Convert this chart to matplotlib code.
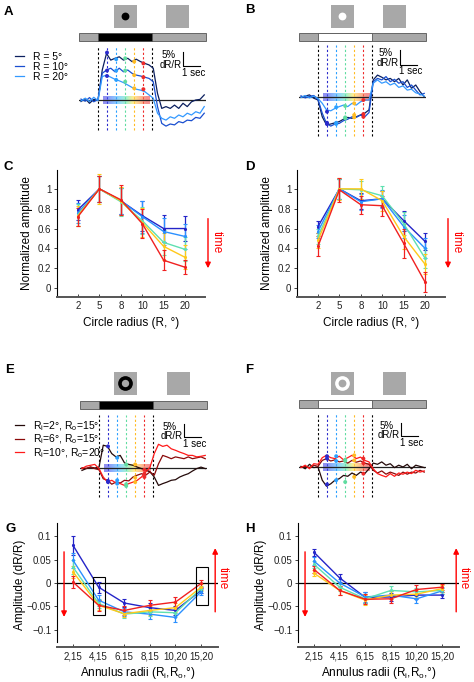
import numpy as np
import matplotlib
matplotlib.use('Agg')
import matplotlib.pyplot as plt
from matplotlib.patches import Rectangle, Circle
from matplotlib.colors import to_rgb

plt.rcParams['font.family'] = ['Liberation Sans', 'DejaVu Sans']
plt.rcParams['mathtext.default'] = 'regular'

W, H = 474, 682

# ---------------- data ----------------
# time courses, seconds from stimulus onset, dR/R in %
T = np.arange(-1.0, 6.26, 0.25)
STIM_END = 3.2
T_MARKS = [0.53, 1.07, 1.6, 2.13, 2.67]
MARK_COLORS = ['#2a2acc', '#2aa0ff', '#5fdca0', '#ffbb22', '#ee2a2a']

circle_labels = ['R = 5\u00b0', 'R = 10\u00b0', 'R = 20\u00b0']
circle_colors = ['#0b1f5e', '#1a4fd0', '#3399ff']

a_r5 = [-0.5, 0.5, -1.1, 0.2, 0, 10, 15.5, 13.3, 13.9, 14.4, 13.3, 13.9, 12.8, 13.6, 12.8,
        12.2, 11.7, 10.6, 2.2, -2.8, -2.2, -2.8, -1.7, -2.8, -1.1, -2.2, -0.6, 0, 0.2, 1.7]
a_r10 = [0.3, -0.4, 0.8, -0.6, 0.2, 8.9, 10, 10.6, 9.4, 10.6, 9.4, 10, 8.9, 8.3, 8.0,
         7.6, 7.2, 6.1, -2.2, -7.8, -8.7, -8, -8.3, -7.2, -7.6, -6.7, -6.9, -5.8, -6.1, -4.4]
a_r20 = [-0.3, 0.6, -0.5, 0.9, -0.2, 7.8, 8.3, 7.6, 6.9, 6.4, 5.8, 5, 4.2, 3.6, 3.3,
         2.8, 1.7, 0.6, -4.4, -6.1, -6.7, -5.6, -6.1, -5, -5.6, -4.4, -5, -3.9, -4.4, -2.2]
a_marks = [[15.8, 13.6, 13.9, 12.8, 12.2],
           [9.8, 9.8, 9.8, 8.3, 7.6],
           [8, 6.7, 6.1, 3.9, 3.6]]

b_r5 = [0, 0.3, 0.7, -0.4, -1, -6.6, -9.3, -9, -8.6, -8.2, -7.4, -6.8, -7.1, -6.6, -6,
        -5.4, -4.3, 5.7, 7.3, 6.6, 5.7, 6.2, 5.1, 6.2, 4, 5.7, 2.9, 4, 1.8, 0.1]
b_r10 = [0.4, -0.3, 0.2, 0.5, -0.8, -5.4, -8.8, -9.7, -9, -8.8, -7.9, -7.4, -6.6, -6.8, -6,
         -6.6, -5.2, 5.1, 6.2, 5.7, 6.8, 5.1, 5.9, 4.6, 5.1, 3.2, 4, 2.3, 0.7, 1.2]
b_r20 = [-0.2, 0.5, -0.3, 0.3, -0.5, -2.1, -4.3, -4.6, -3.8, -3.2, -2.7, -3.2, -2.1, -2.7, -1.6,
         -1, -1, 4.6, 5.7, 4.6, 5.1, 4, 4.6, 3.2, 3.7, 2.3, 2.6, 1.4, 1, 0.3]
b_marks = [[-9, -8.6, -7.1, -6.8, -5.7],
           [-8.6, -9, -6.8, -6, -6.6],
           [-4.9, -3.4, -3, -2.1, -1]]

annulus_labels = ['R$_i$=2\u00b0, R$_o$=15\u00b0', 'R$_i$=6\u00b0, R$_o$=15\u00b0',
                  'R$_i$=10\u00b0, R$_o$=20\u00b0']
annulus_colors = ['#240a0a', '#8b0a0a', '#ff1a1a']

e_2_15 = [-0.8, -0.2, 0.3, 0, 0.3, 7.6, 7.2, 4.8, 3.7, 4.2, 1.7, 1.2, 0.9, 0.3, -0.2,
          -0.6, -1.3, -3, -5.8, -5.2, -4.7, -4.1, -3.9, -3, -2.4, -1.9, -1, -0.2, 0.3, -0.2]
e_6_15 = [0.1, -0.1, 0.3, -0.2, -0.6, -3.6, -4.1, -5.4, -4.7, -5, -4.1, -4.3, -3, -2.4, -1.9,
          -2.4, -1.3, -2.4, 1.4, 4.2, 3.7, 3.1, 3.7, 3.4, 3.1, 3.7, 3.1, 3.4, 3.7, 3.1]
e_10_20 = [-0.2, 0.6, 0.9, 1.2, -0.2, -3, -4.7, -4.1, -5, -5.2, -5.8, -5.2, -4.7, -4.1, -3,
           -1.3, 0.3, 4.8, 7.9, 7.2, 7.6, 6.4, 5.9, 5.3, 4.8, 4.2, 4.2, 3.7, 3.9, 4.2]
e_marks = [[7.2, 3.4, 1.2, 1.2, -0.6],
           [-4.7, -4.1, -5.4, -3.2, -1.9],
           [-4.3, -5.2, -6, -4.7, -3]]

f_2_15 = [0.2, -0.6, 0.9, -0.2, 0, -4.4, -6.4, -5.6, -4.4, -3.9, -2.8, -3.1, -2, -2.8, -1.7,
          -2.2, -0.6, 1.3, 0.9, 1.7, 0.6, 1.1, -0.2, 0.6, 0, 0.9, -0.6, 0.6, 0.2, -0.2]
f_6_15 = [0, 0.2, -0.2, 0.6, 0.2, 2.2, 2.8, 2, 2.4, 1.7, 2, 1.3, 2.2, 1.6, 2,
          1.3, 0.9, -1.1, -2, -1.3, -2.4, -1.7, -2.2, -2.8, -1.7, -2.4, -1.7, -2, -1.1, -1.7]
f_10_20 = [-0.2, 0.6, -0.6, 1.1, 0.9, 3.1, 3.9, 3.1, 2.8, 3.6, 2.4, 3.1, 3.9, 2.8, 3.3,
           2.2, 1.7, -0.6, -2.2, -2.8, -3.3, -2.2, -3.1, -2, -2.4, -1.7, -2.2, -1.1, -1.7, -1.3]
f_marks = [[-5.8, -4.4, -5, -3.3, -2.2],
           [2.8, 2, 2, 2.2, 1.3],
           [3.6, 3.6, 2.4, 3.9, 2.8]]

# tuning curves, one row per time window (early -> late)
radius_labels = ['2', '5', '8', '10', '15', '20']
c_vals = [[0.79, 1.0, 0.88, 0.73, 0.60, 0.60],
          [0.76, 1.0, 0.88, 0.72, 0.57, 0.52],
          [0.74, 1.0, 0.87, 0.68, 0.46, 0.39],
          [0.73, 1.0, 0.88, 0.66, 0.42, 0.31],
          [0.72, 1.0, 0.89, 0.65, 0.28, 0.21]]
c_err = [[0.10, 0.13, 0.13, 0.15, 0.14, 0.13],
         [0.10, 0.13, 0.13, 0.16, 0.14, 0.13],
         [0.11, 0.13, 0.14, 0.14, 0.13, 0.12],
         [0.10, 0.15, 0.14, 0.15, 0.14, 0.12],
         [0.09, 0.13, 0.15, 0.15, 0.10, 0.07]]
d_vals = [[0.62, 1.0, 0.88, 0.90, 0.68, 0.47],
          [0.57, 1.0, 0.87, 0.90, 0.62, 0.40],
          [0.52, 1.0, 0.99, 0.93, 0.65, 0.30],
          [0.48, 1.0, 1.0, 0.88, 0.52, 0.24],
          [0.42, 0.99, 0.84, 0.83, 0.45, 0.06]]
d_err = [[0.06, 0.10, 0.08, 0.08, 0.10, 0.09],
         [0.07, 0.10, 0.08, 0.09, 0.12, 0.10],
         [0.08, 0.10, 0.09, 0.10, 0.12, 0.10],
         [0.08, 0.11, 0.10, 0.10, 0.13, 0.10],
         [0.10, 0.12, 0.09, 0.10, 0.15, 0.10]]

radii_labels = ['2,15', '4,15', '6,15', '8,15', '10,20', '15,20']
g_vals = [[0.081, -0.009, -0.043, -0.053, -0.059, -0.016],
          [0.049, -0.037, -0.062, -0.067, -0.074, -0.019],
          [0.034, -0.044, -0.067, -0.062, -0.064, -0.012],
          [0.024, -0.048, -0.066, -0.059, -0.053, -0.009],
          [0.002, -0.048, -0.059, -0.048, -0.041, -0.001]]
g_err = [[0.020, 0.012, 0.008, 0.010, 0.010, 0.006],
         [0.016, 0.012, 0.009, 0.010, 0.009, 0.006],
         [0.015, 0.010, 0.008, 0.009, 0.009, 0.006],
         [0.013, 0.011, 0.008, 0.010, 0.010, 0.006],
         [0.012, 0.012, 0.009, 0.012, 0.011, 0.007]]
h_vals = [[0.066, 0.011, -0.031, -0.030, -0.026, -0.026],
          [0.047, 0.000, -0.030, -0.026, -0.034, -0.017],
          [0.040, -0.009, -0.034, -0.016, -0.019, -0.016],
          [0.021, -0.016, -0.037, -0.026, -0.024, -0.012],
          [0.029, -0.016, -0.035, -0.034, -0.014, -0.009]]
h_err = [[0.008, 0.009, 0.012, 0.008, 0.008, 0.007],
         [0.008, 0.009, 0.010, 0.008, 0.008, 0.007],
         [0.008, 0.008, 0.010, 0.009, 0.008, 0.007],
         [0.007, 0.010, 0.011, 0.009, 0.009, 0.007],
         [0.007, 0.010, 0.011, 0.009, 0.009, 0.007]]
curve_colors = ['#2424c8', '#2a90ff', '#5fe0b0', '#ffc81a', '#f02020']

# ---------------- layout helpers ----------------
fig = plt.figure(figsize=(W / 100, H / 100), dpi=100)

XLIM = (-1.1, 6.35)
PX_PER_S = 17.0
PX_PER_PCT = 3.0
STRIP = np.array([[to_rgb(c) for c in ['#4848e8', '#3c8cff', '#4cc4f4', '#6ce8a8',
                                        '#ffe24a', '#ff9a48', '#f04848']]])


def px_axes(x, y, w, h):
    return fig.add_axes([x / W, 1 - (y + h) / H, w / W, h / H])


def icon(x, y, fill, ring=None):
    ax = px_axes(x, y, 23, 23)
    ax.set_facecolor('#a8a8a8')
    ax.set_xticks([])
    ax.set_yticks([])
    for s in ax.spines.values():
        s.set_visible(False)
    if ring is not None:
        ax.add_patch(Circle((0.5, 0.5), ring[0], transform=ax.transAxes, fc=fill, ec='none'))
        ax.add_patch(Circle((0.5, 0.5), ring[1], transform=ax.transAxes, fc='#a8a8a8', ec='none'))
    elif fill is not None:
        ax.add_patch(Circle((0.5, 0.5), 0.17, transform=ax.transAxes, fc=fill, ec='none'))


def trace_panel(onset_px, base_px, top_px, bot_px, dash_px, traces, colors, marks,
                stim_color, sb):
    left = onset_px + XLIM[0] * PX_PER_S
    width = (XLIM[1] - XLIM[0]) * PX_PER_S
    ax = px_axes(left, top_px, width, bot_px - top_px)
    ylo = (base_px - bot_px) / PX_PER_PCT
    yhi = (base_px - top_px) / PX_PER_PCT
    bar_h = 8 / PX_PER_PCT
    ax.add_patch(Rectangle((XLIM[0], yhi - bar_h), XLIM[1] - XLIM[0], bar_h, fc='#a8a8a8',
                           ec='#555555', lw=0.6, clip_on=False))
    ax.add_patch(Rectangle((0, yhi - bar_h), STIM_END, bar_h, fc=stim_color,
                           ec='#555555', lw=0.6, clip_on=False))
    d_top = (base_px - dash_px[0]) / PX_PER_PCT
    d_bot = (base_px - dash_px[1]) / PX_PER_PCT
    for tm, c in zip([0] + T_MARKS + [STIM_END], ['black'] + MARK_COLORS + ['black']):
        ax.plot([tm, tm], [d_bot, d_top], color=c, lw=0.8, ls=(0, (2, 2)), zorder=1)
    ax.imshow(STRIP, extent=(0.29, 3.0, -1.3, 1.3), aspect='auto', alpha=0.6,
              interpolation='bilinear', zorder=2)
    ax.axhline(0, color='#222222', lw=0.9, zorder=3)
    lines = []
    for y, c in zip(traces, colors):
        lines.append(ax.plot(T, y, color=c, lw=0.9, zorder=4)[0])
    for m in marks:
        ax.scatter(T_MARKS, m, c=MARK_COLORS, s=8, zorder=5, linewidths=0)
    # scale bar: 5 % and 1 s
    st, s_top, s_bot = sb
    ax.plot([st, st, st + 1], [s_top, s_bot, s_bot], color='black', lw=0.8)
    ax.text(st - 0.42, s_top - 1.0, '5%', ha='right', va='center', fontsize=7)
    ax.text(st - 0.05, s_bot + 0.5, 'dR/R', ha='right', va='center', fontsize=7)
    ax.text(st + 0.65, s_bot - 2.2, '1 sec', ha='center', va='center', fontsize=7)
    ax.set_xlim(XLIM)
    ax.set_ylim(ylo, yhi)
    ax.axis('off')
    return lines


def style_axes(ax, xlabels, xlabel, ylabel, yticks, yticklabels, ybounds, xpad, ypad):
    for s in ['top', 'right']:
        ax.spines[s].set_visible(False)
    ax.spines['left'].set_linewidth(0.8)
    ax.spines['left'].set_bounds(*ybounds)
    ax.spines['bottom'].set_linewidth(1.4)
    ax.spines['bottom'].set_color('#555555')
    ax.set_xticks(range(1, len(xlabels) + 1))
    ax.set_xticklabels(xlabels)
    ax.set_yticks(yticks)
    ax.set_yticklabels(yticklabels)
    ax.tick_params(axis='y', direction='out', length=2, width=0.6, labelsize=7, pad=2,
                   colors='#222222')
    ax.tick_params(axis='x', direction='in', length=2.5, width=0.6, labelsize=7, pad=3,
                   colors='#222222')
    ax.set_xlabel(xlabel, fontsize=8.5, labelpad=xpad)
    ax.set_ylabel(ylabel, fontsize=8.5, labelpad=ypad)


def curves(ax, vals, errs):
    x = range(1, len(vals[0]) + 1)
    for v, e, c in zip(vals, errs, curve_colors):
        ax.errorbar(x, v, yerr=e, color=c, lw=1.0, elinewidth=0.9, capsize=1.2,
                    capthick=0.8, marker='.', ms=2.5)


def time_arrow(ax, x, y0, y1):
    ax.annotate('', xy=(x, y1), xytext=(x, y0), annotation_clip=False,
                arrowprops=dict(arrowstyle='-|>', color='red', lw=1.0, mutation_scale=8,
                                shrinkA=0, shrinkB=0))


def time_text(ax, x, y):
    ax.text(x, y, 'time', color='red', rotation=270, ha='center', va='center',
            fontsize=8.5, clip_on=False)


# ---------------- A / B : circles ----------------
icon(114, 5, 'black')
icon(166, 5, None)
icon(331, 5, 'white')
icon(383, 5, None)
la = trace_panel(98, 100, 33, 131, (47, 130), [a_r5, a_r10, a_r20], circle_colors, a_marks,
                 'black', (5.0, 16.0, 11.3))
trace_panel(318, 97, 33, 137, (45, 136), [b_r5, b_r10, b_r20], circle_colors, b_marks,
            'white', (4.82, 15.7, 10.7))
fig.legend(la, circle_labels, loc='upper left', bbox_to_anchor=(15 / W, 1 - 52 / H),
           frameon=False, fontsize=7.5, handlelength=0.9, handletextpad=0.8,
           labelspacing=0.0, borderaxespad=0, borderpad=0)

# ---------------- C / D : circle tuning ----------------
for left, vals, errs in [(57, c_vals, c_err), (297, d_vals, d_err)]:
    ax = px_axes(left, 170, 148, 127)
    curves(ax, vals, errs)
    ax.set_xlim(0.02, 6.93)
    ax.set_ylim(-0.09, 1.19)
    style_axes(ax, radius_labels, 'Circle radius (R, \u00b0)', 'Normalized amplitude',
               [0, 0.2, 0.4, 0.6, 0.8, 1.0], ['0', '0.2', '0.4', '0.6', '0.8', '1'],
               (-0.07, 1.19), 4, 3.5)
    time_arrow(ax, 7.07, 0.70, 0.20)
    time_text(ax, 7.48, 0.46)

# ---------------- E / F : annuli ----------------
icon(114, 372, 'black', ring=(0.32, 0.16))
icon(167, 372, None)
icon(331, 372, 'white', ring=(0.32, 0.17))
icon(383, 372, None)
le = trace_panel(99, 468, 401, 499, (415, 497), [e_2_15, e_6_15, e_10_20], annulus_colors,
                 e_marks, 'black', (5.0, 14.7, 10.3))
trace_panel(318, 467, 400, 498, (414, 497), [f_2_15, f_6_15, f_10_20], annulus_colors,
            f_marks, 'white', (4.88, 14.7, 10.3))
fig.legend(le, annulus_labels, loc='upper left', bbox_to_anchor=(15 / W, 1 - 419 / H),
           frameon=False, fontsize=7.5, handlelength=0.9, handletextpad=0.8,
           labelspacing=0.0, borderaxespad=0, borderpad=0)

# ---------------- G / H : annulus tuning ----------------
gticks = [-0.1, -0.05, 0, 0.05, 0.1]
gticklabels = ['\u22120.1', '\u22120.05', '0', '0.05', '0.1']
axes_gh = []
for left, vals, errs in [(57, g_vals, g_err), (298, h_vals, h_err)]:
    ax = px_axes(left, 523, 161, 124)
    ax.axhline(0, color='black', lw=0.9, zorder=0)
    curves(ax, vals, errs)
    ax.set_xlim(0.375, 6.66)
    ax.set_ylim(-0.1376, 0.129)
    style_axes(ax, radii_labels, 'Annulus radii (R$_i$,R$_o$,\u00b0)', 'Amplitude (dR/R)',
               gticks, gticklabels, (-0.127, 0.129), 3, 1)
    time_arrow(ax, 0.65, 0.067, -0.073)
    time_arrow(ax, 6.55, -0.062, 0.075)
    time_text(ax, 6.86, 0.011)
    axes_gh.append(ax)
for x0, y0 in [(1.78, -0.069), (5.8, -0.048)]:
    axes_gh[0].add_patch(Rectangle((x0, y0), 0.47, 0.082, fill=False, ec='black',
                                   lw=0.8, zorder=6))

# ---------------- panel letters ----------------
for letter, x, y in [('A', 4, 15), ('B', 245, 13), ('C', 3, 170), ('D', 245, 170),
                     ('E', 5, 373), ('F', 245, 373), ('G', 5, 532), ('H', 245, 532)]:
    fig.text(x / W, 1 - y / H, letter, fontsize=9.5, fontweight='bold', va='baseline')

fig.savefig('out.png', dpi=100)
